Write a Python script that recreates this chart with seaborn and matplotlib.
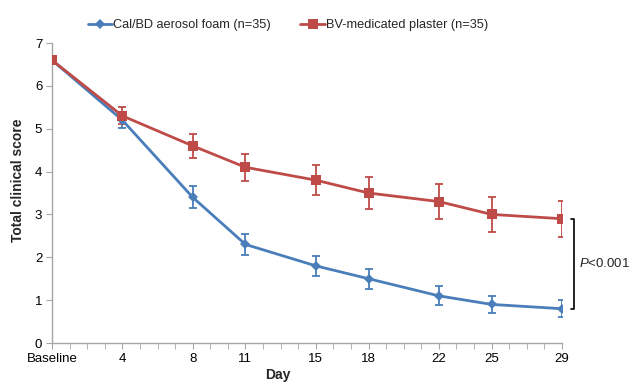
import numpy as np
import pandas as pd
import seaborn as sns
import matplotlib.pyplot as plt
from matplotlib.ticker import MultipleLocator

# Data
days = [0, 4, 8, 11, 15, 18, 22, 25, 29]
day_labels = ['Baseline', '4', '8', '11', '15', '18', '22', '25', '29']
foam_mean = [6.6, 5.2, 3.4, 2.3, 1.8, 1.5, 1.1, 0.9, 0.8]
foam_err = [0.0, 0.18, 0.26, 0.24, 0.24, 0.23, 0.22, 0.2, 0.2]
plaster_mean = [6.6, 5.3, 4.6, 4.1, 3.8, 3.5, 3.3, 3.0, 2.9]
plaster_err = [0.0, 0.2, 0.28, 0.32, 0.35, 0.38, 0.4, 0.4, 0.42]
foam_name = 'Cal/BD aerosol foam (n=35)'
plaster_name = 'BV-medicated plaster (n=35)'

blue = '#4A7EBB'
red = '#BE4B48'

df = pd.concat([
    pd.DataFrame({'day': days, 'score': foam_mean, 'err': foam_err, 'group': foam_name}),
    pd.DataFrame({'day': days, 'score': plaster_mean, 'err': plaster_err, 'group': plaster_name}),
])

sns.set_style('white')
plt.rcParams['font.family'] = ['Liberation Sans', 'DejaVu Sans']
plt.rcParams['mathtext.fontset'] = 'custom'
plt.rcParams['mathtext.it'] = 'Liberation Sans:italic'
plt.rcParams['mathtext.rm'] = 'Liberation Sans'

fig, ax = plt.subplots(figsize=(6.32, 3.84), dpi=100)
fig.subplots_adjust(left=52 / 632, right=562 / 632, bottom=1 - 343 / 384, top=1 - 43 / 384)

palette = {foam_name: blue, plaster_name: red}
markers = {foam_name: 'D', plaster_name: 's'}
sizes = {foam_name: 5.5, plaster_name: 7.5}

# Error bars first so lines sit on top
for name, sub in df.groupby('group', sort=False):
    ax.errorbar(sub['day'], sub['score'], yerr=sub['err'], fmt='none',
                ecolor=palette[name], elinewidth=1.3, capsize=3, capthick=1.3, zorder=2)

for name, sub in df.groupby('group', sort=False):
    sns.lineplot(data=sub, x='day', y='score', color=palette[name], marker=markers[name],
                 markersize=sizes[name], markeredgewidth=0, linewidth=2, label=name,
                 ax=ax, zorder=3, errorbar=None)

ax.set_xlim(0, 29)
ax.set_ylim(0, 7)
ax.set_xticks(days)
ax.set_xticklabels(day_labels)
ax.xaxis.set_minor_locator(MultipleLocator(1))
ax.set_yticks(range(0, 8))

for side in ['top', 'right']:
    ax.spines[side].set_visible(False)
for side in ['left', 'bottom']:
    ax.spines[side].set_color('#A6A6A6')
    ax.spines[side].set_linewidth(1)
ax.tick_params(axis='both', which='both', direction='out', color='#A6A6A6',
               labelsize=9.5, labelcolor='black')
ax.tick_params(axis='x', which='major', length=4, bottom=True, pad=3)
ax.tick_params(axis='x', which='minor', length=4, bottom=True)
ax.tick_params(axis='y', length=4, left=True, pad=3)

# Excel-style axis titles, not centred on the plot area
ax.set_xlabel('Day', fontsize=10, fontweight='bold')
ax.set_ylabel('Total clinical score', fontsize=10, fontweight='bold')
ax.xaxis.set_label_coords((278 - 52) / 510, -0.107)
ax.yaxis.set_label_coords(-0.067, 0.543)
ax.xaxis.label.set_va('center')
ax.yaxis.label.set_va('center')

ax.legend(loc='lower left', bbox_to_anchor=(0.07, 1.04), ncol=2, frameon=False,
          fontsize=9.2, handlelength=1.9, handletextpad=0.1, columnspacing=2.3,
          borderaxespad=0, borderpad=0)

# Significance bracket between the two day-29 values
bx = 29.7
ax.plot([29.5, bx, bx, 29.5], [plaster_mean[-1], plaster_mean[-1], foam_mean[-1], foam_mean[-1]],
        color='black', linewidth=1.2, clip_on=False)
ax.text(29.97, (plaster_mean[-1] + foam_mean[-1]) / 2, '$\\it{P}$<0.001', fontsize=9.5,
        va='center', ha='left')

fig.savefig('out.png', dpi=100)
